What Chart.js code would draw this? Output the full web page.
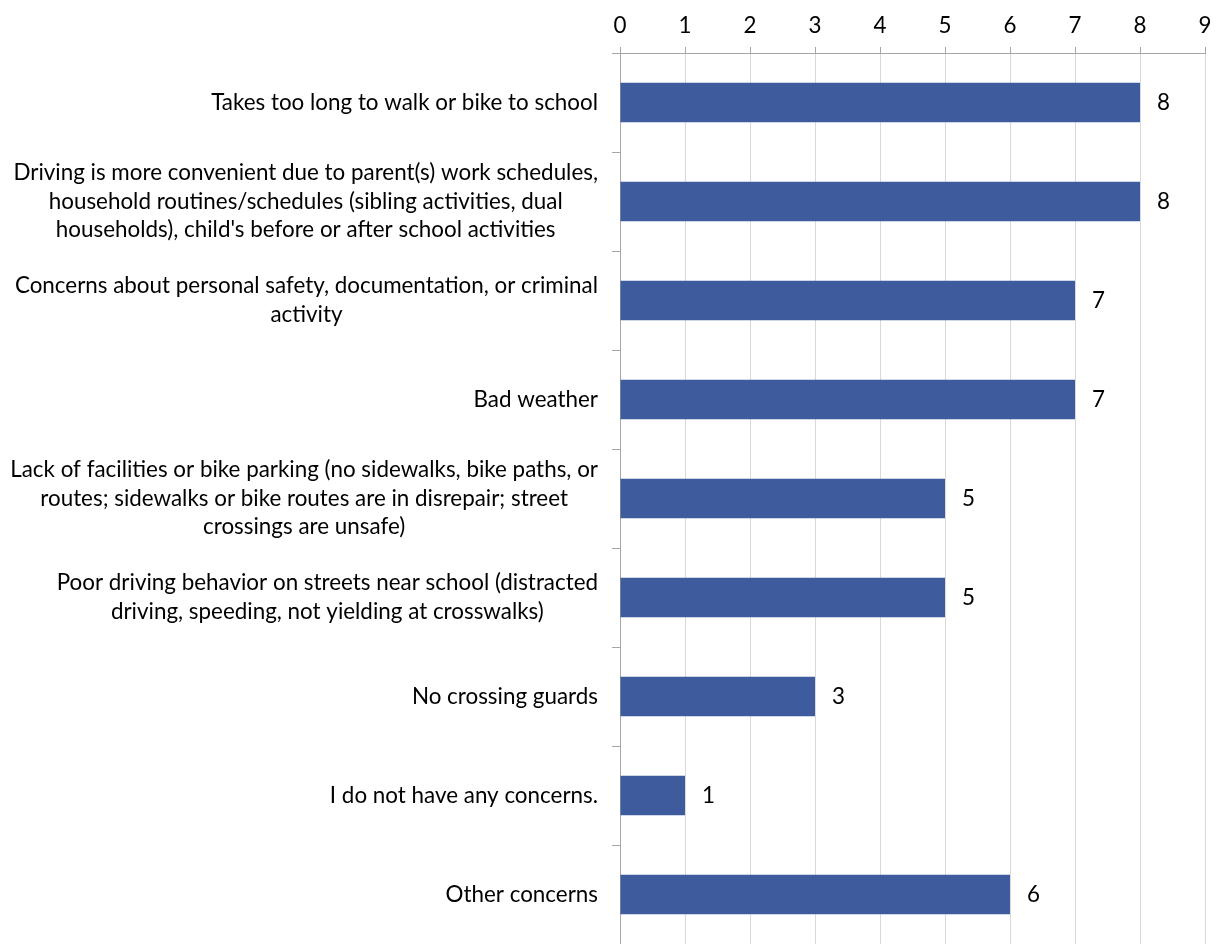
<!DOCTYPE html>
<html>
<head>
<meta charset="utf-8">
<script src="https://cdn.jsdelivr.net/npm/chart.js"></script>
<style>
  html, body { margin: 0; padding: 0; background: #fff; }
  #wrap { width: 1218px; height: 944px; position: relative; }
</style>
</head>
<body>
<div id="wrap"><canvas id="myChart"></canvas></div>
<script>
const categories = [
  "Takes too long to walk or bike to school",
  ["Driving is more convenient due to parent(s) work schedules,",
   "household routines/schedules (sibling activities, dual",
   "households), child's before or after school activities"],
  ["Concerns about personal safety, documentation, or criminal", "activity"],
  "Bad weather",
  ["Lack of facilities or bike parking (no sidewalks, bike paths, or",
   "routes; sidewalks or bike routes are in disrepair; street",
   "crossings are unsafe)"],
  ["Poor driving behavior on streets near school (distracted",
   "driving, speeding, not yielding at crosswalks)"],
  "No crossing guards",
  "I do not have any concerns.",
  "Other concerns",
];
const counts = [8, 8, 7, 7, 5, 5, 3, 1, 6];
const xMin = 0;
const xMax = 9;

const FAMILY = "Lato, 'Liberation Sans', sans-serif";
const FONT = "22.4px " + FAMILY;

// category labels: each block right-aligned, lines centred inside it
const yLabels = {
  id: "yLabels",
  afterDraw(chart) {
    const ctx = chart.ctx;
    const y = chart.scales.y;
    ctx.save();
    ctx.font = FONT;
    ctx.fillStyle = "#000";
    ctx.textAlign = "center";
    ctx.textBaseline = "middle";
    categories.forEach((lab, i) => {
      const lines = Array.isArray(lab) ? lab : [lab];
      const w = Math.max(...lines.map((l) => ctx.measureText(l).width));
      const cx = y.right - 22 - w / 2;
      const cy = y.getPixelForTick(i);
      lines.forEach((l, j) => {
        ctx.fillText(l, cx, cy + (j - (lines.length - 1) / 2) * 28.5);
      });
    });
    ctx.restore();
  },
};

// value labels at the end of each bar
const valueLabels = {
  id: "valueLabels",
  afterDatasetsDraw(chart) {
    const ctx = chart.ctx;
    const meta = chart.getDatasetMeta(0);
    ctx.save();
    ctx.font = FONT;
    ctx.fillStyle = "#000";
    ctx.textAlign = "left";
    ctx.textBaseline = "middle";
    meta.data.forEach((bar, i) => {
      ctx.fillText(String(counts[i]), bar.x + 17, bar.y);
    });
    ctx.restore();
  },
};

new Chart("myChart", {
  type: "bar",
  data: {
    labels: categories,
    datasets: [
      {
        data: counts,
        backgroundColor: "#3E5B9E",
        barPercentage: 0.4,
        categoryPercentage: 1,
      },
    ],
  },
  options: {
    indexAxis: "y",
    responsive: true,
    maintainAspectRatio: false,
    animation: false,
    layout: { padding: { left: 0, right: 13, top: 0, bottom: 0 } },
    plugins: {
      legend: { display: false },
      tooltip: { enabled: false },
    },
    scales: {
      x: {
        position: "top",
        min: xMin,
        max: xMax,
        ticks: {
          stepSize: 1,
          color: "#000",
          font: { family: FAMILY, size: 22.4 },
          padding: 8,
        },
        grid: {
          color: "#d9d9d9",
          tickColor: "#a6a6a6",
          tickLength: 6,
        },
        border: { color: "#a6a6a6" },
        afterFit(scale) {
          scale.height = 53;
          scale.paddingRight = 0;
          scale.paddingLeft = 0;
        },
      },
      y: {
        ticks: { display: false },
        grid: {
          offset: true,
          drawOnChartArea: false,
          tickColor: "#a6a6a6",
          tickLength: 8,
        },
        border: { color: "#a6a6a6" },
        afterFit(scale) {
          scale.width = 620;
        },
      },
    },
  },
  plugins: [yLabels, valueLabels],
});
</script>
</body>
</html>
